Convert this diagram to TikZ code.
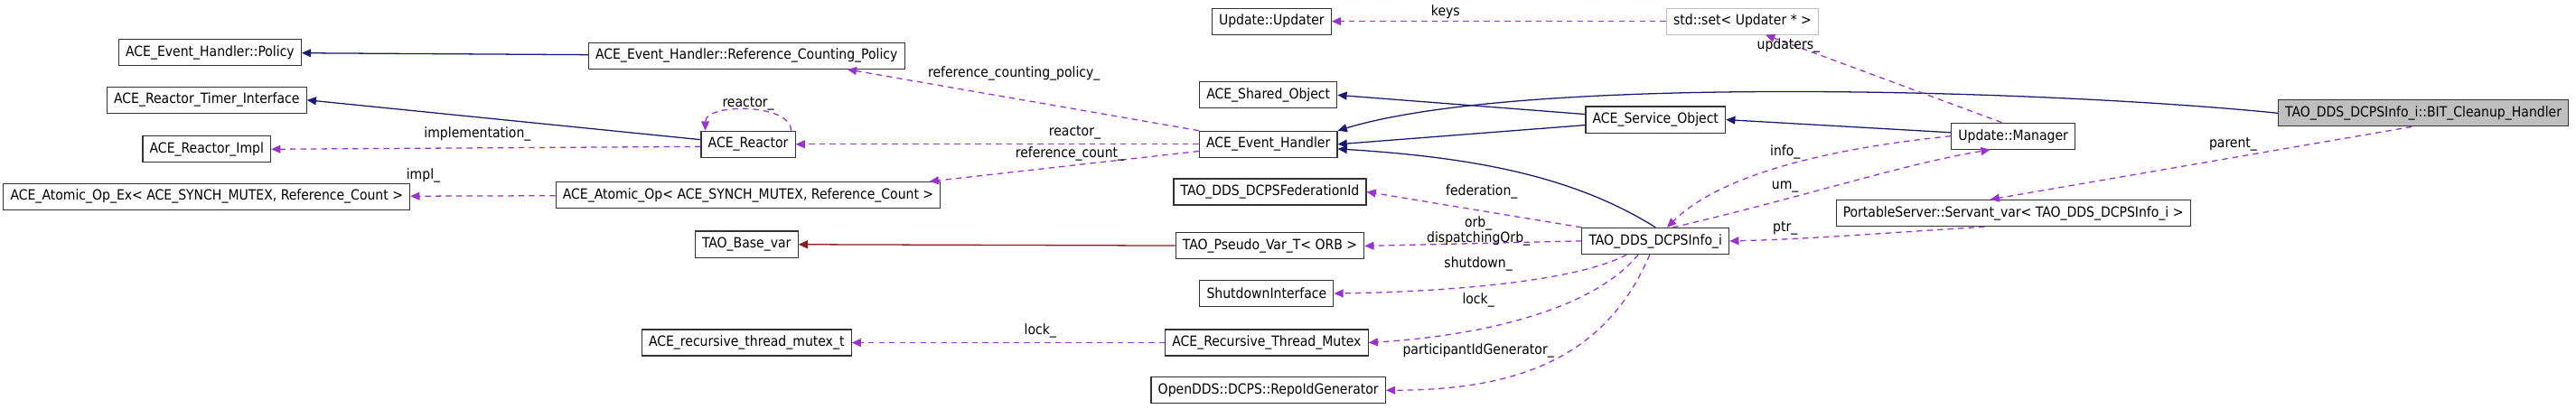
\documentclass[tikz,border=0pt]{standalone}
\usepackage{fontspec}
\setmainfont{DejaVu Sans Condensed}
\usetikzlibrary{arrows.meta}

\definecolor{inhcol}{HTML}{191970}
\definecolor{usecol}{HTML}{9A32CD}
\definecolor{tplcol}{HTML}{8B1A1A}

\tikzset{
	cls/.style={draw=black!80, fill=white, line width=0.9pt, inner xsep=6pt,
		minimum height=0.8cm, font=\fontsize{12.2}{14}\selectfont},
	inherit/.style={draw=inhcol, line width=1pt, -{Triangle[length=8pt,width=7pt]}},
	uses/.style={draw=usecol, line width=1pt, dash pattern=on 5pt off 4pt,
		-{Triangle[length=8pt,width=7pt]}},
	templ/.style={draw=tplcol, line width=1pt, -{Triangle[length=8pt,width=7pt]}},
	lbl/.style={font=\fontsize{12.2}{13}\selectfont, inner sep=1pt, align=center},
}

\begin{document}
\begin{tikzpicture}[x=0.05cm, y=-0.05cm]
	\useasboundingbox (0,0) rectangle (1570,249);

	% left column
	\node[cls] (policy) at (128,32) {ACE\_Event\_Handler::Policy};
	\node[cls] (timer) at (126,61) {ACE\_Reactor\_Timer\_Interface};
	\node[cls] (rimpl) at (126,91) {ACE\_Reactor\_Impl};
	\node[cls] (opex) at (126,120) {ACE\_Atomic\_Op\_Ex< ACE\_SYNCH\_MUTEX, Reference\_Count >};

	% second column
	\node[cls] (rcpolicy) at (455,34) {ACE\_Event\_Handler::Reference\_Counting\_Policy};
	\node[cls] (reactor) at (456,88) {ACE\_Reactor};
	\node[cls] (atomicop) at (456,119) {ACE\_Atomic\_Op< ACE\_SYNCH\_MUTEX, Reference\_Count >};
	\node[cls] (basevar) at (455,149) {TAO\_Base\_var};
	\node[cls] (rtmutex) at (455,209) {ACE\_recursive\_thread\_mutex\_t};

	% third column
	\node[cls] (updater) at (775,13) {Update::Updater};
	\node[cls] (shared) at (773,58) {ACE\_Shared\_Object};
	\node[cls] (evhandler) at (773,88) {ACE\_Event\_Handler};
	\node[cls] (fedid) at (774,117) {TAO\_DDS\_DCPSFederationId};
	\node[cls] (pseudo) at (774,150) {TAO\_Pseudo\_Var\_T< ORB >};
	\node[cls] (shutdown) at (772,179) {ShutdownInterface};
	\node[cls] (rmutex) at (772,209) {ACE\_Recursive\_Thread\_Mutex};
	\node[cls] (repoid) at (773,238) {OpenDDS::DCPS::RepoIdGenerator};

	% fourth column
	\node[cls, draw=black!25] (updset) at (1062,13) {std::set< Updater * >};
	\node[cls] (service) at (1009,73) {ACE\_Service\_Object};
	\node[cls] (infoi) at (1009,147) {TAO\_DDS\_DCPSInfo\_i};

	% right
	\node[cls] (manager) at (1227,83) {Update::Manager};
	\node[cls] (servant) at (1227,130) {PortableServer::Servant\_var< TAO\_DDS\_DCPSInfo\_i >};
	\node[cls, fill=black!25] (bitclean) at (1477,69) {TAO\_DDS\_DCPSInfo\_i::BIT\_Cleanup\_Handler};

	% inheritance
	\draw[inherit] (rcpolicy) -- (policy);
	\draw[inherit] ([yshift=4pt]reactor.west) -- (timer.east);
	\draw[inherit] (service) -- (shared.east);
	\draw[inherit] (service) -- (evhandler.east);
	\draw[inherit] (manager) -- (service.east);
	\draw[inherit] (bitclean.west) .. controls (1250,55) and (930,45) .. (evhandler.north east);
	\draw[inherit] (infoi.north) .. controls (960,108) and (900,96) .. ([yshift=-4pt]evhandler.east);
	\draw[templ] (pseudo) -- (basevar);

	% usage
	\draw[uses] ([yshift=-2pt]reactor.west) -- (rimpl.east);
	\draw[uses] ([xshift=-4pt]reactor.north east) .. controls ([xshift=-4pt,yshift=24pt]reactor.north east) and ([xshift=4pt,yshift=24pt]reactor.north west) .. ([xshift=4pt]reactor.north west);
	\draw[uses] (atomicop) -- (opex);
	\draw[uses] (evhandler.north west) -- ([xshift=-50pt]rcpolicy.south east);
	\draw[uses] (evhandler.west) -- (reactor.east);
	\draw[uses] ([yshift=-6pt]evhandler.west) -- ([xshift=-10pt]atomicop.north east);
	\draw[uses] (rmutex) -- (rtmutex);
	\draw[uses] (updset) -- (updater);
	\draw[uses] (infoi.north west) -- (fedid.east);
	\draw[uses] (infoi.west) -- (pseudo.east);
	\draw[uses] ([xshift=-25pt]infoi.south) .. controls (960,172) and (880,178) .. (shutdown.east);
	\draw[uses] ([xshift=-15pt]infoi.south) .. controls (970,190) and (900,205) .. (rmutex.east);
	\draw[uses] ([xshift=-5pt]infoi.south) .. controls (980,215) and (930,238) .. (repoid.east);
	\draw[uses] ([xshift=-10pt]manager.north) -- ([xshift=20pt]updset.south);
	\draw[uses] (manager.west) .. controls (1120,90) and (1050,105) .. ([xshift=10pt]infoi.north);
	\draw[uses] ([xshift=15pt]infoi.north) .. controls (1100,120) and (1160,100) .. ([xshift=-20pt]manager.south);
	\draw[uses] ([xshift=-25pt]servant.south) .. controls (1150,142) and (1100,146) .. (infoi.east);
	\draw[uses] ([xshift=-10pt]bitclean.south) -- ([xshift=-20pt]servant.north);

	% labels
	\node[lbl] (lrcp) at (618,45) {reference\_counting\_policy\_};
	\node[lbl] (lself) at (456,63) {reactor\_};
	\node[lbl] (limpl) at (291,82) {implementation\_};
	\node[lbl] (limp) at (258,107) {impl\_};
	\node[lbl] (lreact) at (655,81) {reactor\_};
	\node[lbl] (lrefc) at (652,94) {reference\_count\_};
	\node[lbl] (llock) at (634,202) {lock\_};
	\node[lbl] (lkeys) at (881,7) {keys};
	\node[lbl] (lfed) at (903,117) {federation\_};
	\node[lbl] (lorb) at (901,141) {orb\_\\dispatchingOrb\_};
	\node[lbl] (lshut) at (901,161) {shutdown\_};
	\node[lbl] (llock2) at (901,183) {lock\_};
	\node[lbl] (lpart) at (901,214) {participantIdGenerator\_};
	\node[lbl] (lupd) at (1090,28) {updaters\_};
	\node[lbl] (linfo) at (1088,93) {info\_};
	\node[lbl] (lum) at (1088,114) {um\_};
	\node[lbl] (lptr) at (1088,139) {ptr\_};
	\node[lbl] (lpar) at (1361,88) {parent\_};
\end{tikzpicture}
\end{document}
